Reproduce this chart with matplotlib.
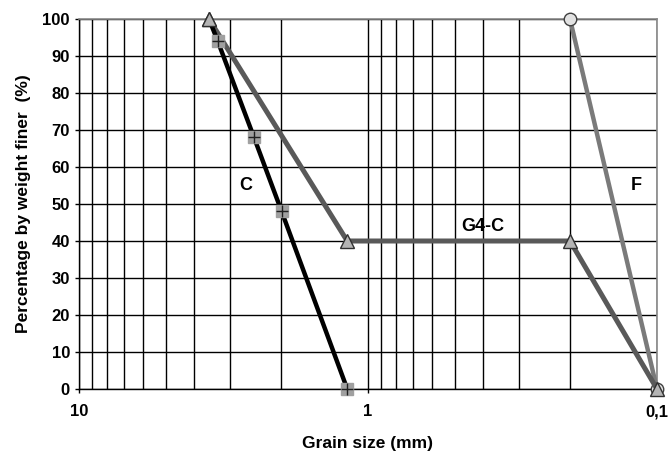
import matplotlib
matplotlib.use("Agg")
import matplotlib.pyplot as plt
from matplotlib.ticker import LogLocator, FixedLocator, NullFormatter

# Data (grain size in mm, percentage finer)
c_size = [3.55, 3.31, 2.48, 1.99, 1.18]
c_pct = [100, 94, 68, 48, 0]

g4c_size = [3.55, 1.18, 0.2, 0.1]
g4c_pct = [100, 40, 40, 0]

f_size = [0.2, 0.1]
f_pct = [100, 0]

yticks = list(range(0, 101, 10))
xticks = [10, 1, 0.1]
xticklabels = ["10", "1", "0,1"]

font = ["Liberation Sans Narrow", "Liberation Sans", "DejaVu Sans"]
plt.rcParams["font.family"] = font

fig = plt.figure(figsize=(6.71, 4.53), dpi=100)
ax = fig.add_axes([79/671, 1-389/453, (657-79)/671, (389-19)/453])
ax.set_xscale("log")
ax.set_xlim(10, 0.1)
ax.set_ylim(0, 100)

# grid
ax.xaxis.set_major_locator(FixedLocator(xticks))
ax.xaxis.set_minor_locator(LogLocator(base=10, subs=range(2, 10)))
ax.xaxis.set_minor_formatter(NullFormatter())
ax.set_yticks(yticks)
ax.grid(which="both", axis="x", color="black", linewidth=1.0, zorder=1)
ax.grid(which="major", axis="y", color="black", linewidth=1.0, zorder=1)
ax.set_axisbelow(True)

# F line
ax.plot(f_size, f_pct, color="#7a7a7a", linewidth=3.2, zorder=3,
        marker="o", markersize=9, markerfacecolor="#e2e2e2",
        markeredgecolor="#404040", markeredgewidth=1.0, clip_on=False)
# G4-C line
ax.plot(g4c_size, g4c_pct, color="#595959", linewidth=3.6, zorder=4,
        marker="^", markersize=10, markerfacecolor="#b4b4b4",
        markeredgecolor="#303030", markeredgewidth=1.0, clip_on=False)
# C line
ax.plot(c_size, c_pct, color="black", linewidth=3.2, zorder=5, clip_on=False)
ax.plot(c_size[1:], c_pct[1:], linestyle="none", marker="s", markersize=8,
        markerfacecolor="#a0a0a0", markeredgecolor="#a0a0a0", zorder=6, clip_on=False)
ax.plot(c_size[1:], c_pct[1:], linestyle="none", marker="+", markersize=8,
        markeredgecolor="#202020", markeredgewidth=1.0, zorder=7, clip_on=False)
# redraw top triangle on top
ax.plot(g4c_size[:1], g4c_pct[:1], linestyle="none", marker="^", markersize=10,
        markerfacecolor="#b4b4b4", markeredgecolor="#303030",
        markeredgewidth=1.0, zorder=8, clip_on=False)

# labels of curves
ax.text(2.64, 55, "C", fontsize=13, fontweight="bold", ha="center", va="center", zorder=9)
ax.text(0.40, 44, "G4-C", fontsize=13, fontweight="bold", ha="center", va="center", zorder=9)
ax.text(0.118, 55, "F", fontsize=13, fontweight="bold", ha="center", va="center", zorder=9)

# spines
for s in ["top", "right"]:
    ax.spines[s].set_color("#888888")
    ax.spines[s].set_linewidth(1.2)
ax.spines["left"].set_color("black")
ax.spines["bottom"].set_color("black")
ax.spines["left"].set_linewidth(1.0)
ax.spines["bottom"].set_linewidth(1.0)

ax.set_xticklabels(xticklabels)
ax.tick_params(axis="both", which="major", labelsize=12, length=3, width=1, direction="out")
ax.tick_params(axis="x", which="minor", length=0)
ax.tick_params(axis="x", which="major", pad=8)
for lbl in ax.get_xticklabels() + ax.get_yticklabels():
    lbl.set_fontweight("bold")

ax.set_xlabel("Grain size (mm)", fontsize=12.5, fontweight="bold", labelpad=12)
ax.set_ylabel("Percentage by weight finer  (%)", fontsize=12.5, fontweight="bold", labelpad=8)

fig.savefig("out.png", dpi=100)
